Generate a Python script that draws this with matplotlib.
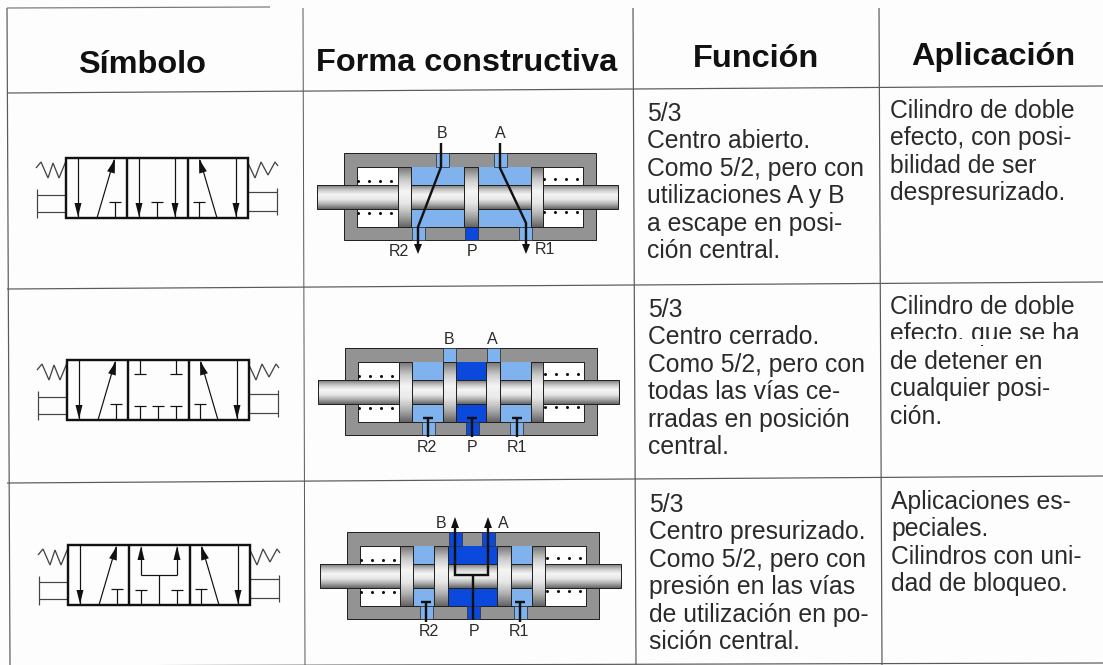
import numpy as np
import matplotlib
matplotlib.use('Agg')
import matplotlib.pyplot as plt
from matplotlib.colors import LinearSegmentedColormap
from matplotlib.patches import Polygon, Rectangle

plt.rcParams['font.family'] = ['Liberation Sans', 'DejaVu Sans']

LIGHT = '#80b2ee'
DARK = '#0b48dc'
GRAY = '#939393'
TEXT = '#2a2a2a'

headers = ['Símbolo', 'Forma constructiva', 'Función', 'Aplicación']
header_x = [142, 467, 756, 993]
header_y = [73, 71, 67, 65]

funcion = [
    ['5/3', 'Centro abierto.', 'Como 5/2, pero con', 'utilizaciones A y B',
     'a escape en posi-', 'ción central.'],
    ['5/3', 'Centro cerrado.', 'Como 5/2, pero con', 'todas las vías ce-',
     'rradas en posición', 'central.'],
    ['5/3', 'Centro presurizado.', 'Como 5/2, pero con', 'presión en las vías',
     'de utilización en po-', 'sición central.'],
]
funcion_x = [647, 648, 649]
funcion_y = [121, 317, 512]

aplicacion = [
    ['Cilindro de doble', 'efecto, con posi-', 'bilidad de ser', 'despresurizado.'],
    ['Cilindro de doble', 'efecto, que se ha', 'de detener en', 'cualquier posi-', 'ción.'],
    ['Aplicaciones es-', 'peciales.', 'Cilindros con uni-', 'dad de bloqueo.'],
]
aplicacion_x = [890, 890, 891]
aplicacion_y = [118, 314, 509]

# symbol box corners, one per row
symbol_x = [66, 67, 68]
symbol_y = [158, 360, 545]

# valve section offsets, relative to the first row
section_dx = [0, 1, 3]
section_dy = [0, 195, 379]
pistons = [
    [(398, 411), (464, 478), (531, 543)],
    [(398, 411), (442, 455), (485, 499), (530, 542)],
    [(397, 410), (431, 445), (494, 508), (529, 542)],
]
chambers = [
    [(411, 464, LIGHT), (478, 531, LIGHT)],
    [(411, 442, LIGHT), (455, 485, DARK), (499, 530, LIGHT)],
    [(410, 431, LIGHT), (445, 494, DARK), (508, 529, LIGHT)],
]
top_ports = [
    [(436, LIGHT), (494, LIGHT)],
    [(442, LIGHT), (486, LIGHT)],
    [(446, DARK), (479, DARK)],
]
bottom_ports = [
    [(412, LIGHT), (465, DARK), (519, LIGHT)],
    [(421, LIGHT), (465, DARK), (509, LIGHT)],
    [(417, LIGHT), (464, DARK), (511, LIGHT)],
]
port_labels = [
    [('B', 442, 134), ('A', 500, 134), ('R2', 399, 251), ('P', 472, 252), ('R1', 545, 250)],
    [('B', 449, 339), ('A', 492, 339), ('R2', 427, 447), ('P', 472, 447), ('R1', 517, 447)],
    [('B', 441, 523), ('A', 503, 523), ('R2', 429, 632), ('P', 474, 632), ('R1', 519, 632)],
]

rod_cmap = LinearSegmentedColormap.from_list(
    'rod', ['#777777', '#c8c8c8', '#f5f5f5', '#e8e8e8', '#b0b0b0', '#666666'])

fig = plt.figure(figsize=(11.03, 6.65), dpi=100, facecolor='#fdfdfd')
ax = fig.add_axes([0, 0, 1, 1])
ax.axis('off')


def px(n):
    return n * 0.72


def line(xs, ys, width=1.0, color='#111111', z=5):
    ax.plot(xs, ys, color=color, lw=px(width), solid_capstyle='butt',
            solid_joinstyle='miter', zorder=z)


def head(x, y, dx, dy, length, half, color='#111111', z=6):
    # arrowhead with the tip at x, y pointing along dx, dy
    norm = np.hypot(dx, dy)
    ux, uy = dx / norm, dy / norm
    base = (x - ux * length, y - uy * length)
    pts = [(x, y), (base[0] - uy * half, base[1] + ux * half),
           (base[0] + uy * half, base[1] - ux * half)]
    ax.add_patch(Polygon(pts, closed=True, fc=color, ec='none', zorder=z))


def rect(x0, x1, y0, y1, color, z=2, edge='#222222', lw=1.0):
    ax.add_patch(Rectangle((x0, y0), x1 - x0, y1 - y0, fc=color, ec=edge,
                           lw=px(lw), zorder=z))


def gradient(x0, x1, y0, y1, z):
    grad = np.linspace(0, 1, 64).reshape(-1, 1)
    ax.imshow(grad, extent=[x0, x1, y1, y0], aspect='auto', cmap=rod_cmap,
              interpolation='bilinear', zorder=z)
    rect(x0, x1, y0, y1, 'none', z=z + 0.1)


def sym_t(x, y0, y1, half=6):
    line([x, x], [y0, y1], 1.2)
    line([x - half, x + half], [y1, y1], 1.2)


def symbol(row, x0, y0):
    w, h = 182, 60
    c = '#444444'
    # springs and levers outside of the box
    line([x0 + v for v in (-30, -25, -18, -13, -7, 0)],
         [y0 + v for v in (10, 4, 20, 5, 20, 3)], 1.3, c)
    line([x0 + w + v for v in (0, 7, 13, 20, 27, 30)],
         [y0 + v for v in (5, 20, 4, 17, 4, 8)], 1.3, c)
    line([x0 - 29, x0], [y0 + 37, y0 + 37], 1.2, c)
    line([x0 - 29, x0], [y0 + 54, y0 + 54], 1.2, c)
    line([x0 - 29, x0 - 29], [y0 + 31, y0 + 60], 1.2, c)
    line([x0 + w, x0 + w + 29], [y0 + 34, y0 + 34], 1.2, c)
    line([x0 + w, x0 + w + 29], [y0 + 53, y0 + 53], 1.2, c)
    line([x0 + w + 29, x0 + w + 29], [y0 + 30, y0 + 57], 1.2, c)

    # side cells are the same in every row
    line([x0 + 12, x0 + 12], [y0, y0 + 60], 1.2)
    head(x0 + 12, y0 + 59, 0, 1, 14, 3.5)
    line([x0 + 31, x0 + 48], [y0 + 60, y0 + 2], 1.2)
    head(x0 + 49, y0 + 1, 0.29, -0.96, 14, 4)
    sym_t(x0 + 49, y0 + 60, y0 + 44)
    line([x0 + 151, x0 + 134], [y0 + 60, y0 + 2], 1.2)
    head(x0 + 133, y0 + 1, -0.29, -0.96, 14, 4)
    sym_t(x0 + 133, y0 + 60, y0 + 44)
    line([x0 + 170, x0 + 170], [y0, y0 + 60], 1.2)
    head(x0 + 170, y0 + 59, 0, 1, 14, 3.5)

    # middle cell is what tells the three valves apart
    if row == 0:
        for rel in (73, 109):
            line([x0 + rel, x0 + rel], [y0, y0 + 60], 1.2)
            head(x0 + rel, y0 + 59, 0, 1, 14, 3.5)
        sym_t(x0 + 91, y0 + 60, y0 + 44)
    elif row == 1:
        for rel in (73, 109):
            sym_t(x0 + rel, y0, y0 + 14)
            sym_t(x0 + rel, y0 + 60, y0 + 46)
        sym_t(x0 + 91, y0 + 60, y0 + 46)
    else:
        for rel in (73, 109):
            line([x0 + rel, x0 + rel], [y0 + 30, y0 + 2], 1.2)
            head(x0 + rel, y0 + 1, 0, -1, 14, 3.5)
            sym_t(x0 + rel, y0 + 60, y0 + 45)
        line([x0 + 73, x0 + 109], [y0 + 30, y0 + 30], 1.2)
        line([x0 + 91, x0 + 91], [y0 + 30, y0 + 60], 1.2)

    # box goes on top
    rect(x0, x0 + w, y0, y0 + h, 'none', z=7, edge='#111111', lw=2.4)
    for rel in (61, 122):
        line([x0 + rel, x0 + rel], [y0, y0 + h], 2.4, z=7)


def section(row, dx, dy):
    rect(344 + dx, 596 + dx, 153 + dy, 240 + dy, GRAY)
    rect(357 + dx, 583 + dx, 167 + dy, 227 + dy, 'white', z=2.1)
    for x0, x1, c in chambers[row]:
        rect(x0 + dx, x1 + dx, 167 + dy, 227 + dy, c, z=2.2, edge='none', lw=0)
    gradient(317 + dx, 618 + dx, 185 + dy, 209 + dy, 3)
    for x0, x1 in pistons[row]:
        gradient(x0 + dx, x1 + dx, 167 + dy, 227 + dy, 3.5)
    for x0, c in top_ports[row]:
        rect(x0 + dx, x0 + 13 + dx, 153 + dy, 167 + dy, c, z=3, edge='#333333', lw=0.8)
    for x0, c in bottom_ports[row]:
        rect(x0 + dx, x0 + 13 + dx, 227 + dy, 240 + dy, c, z=3, edge='#333333', lw=0.8)

    # coil dots next to the rod
    coil_left = np.array([358, 369, 380, 391]) + dx
    coil_right = np.array([544, 555, 566, 577]) + dx
    for xs, y_top, y_bot in ((coil_left, 181, 213), (coil_right, 179, 212)):
        ax.plot(xs, [y_top + dy] * 4, 'o', ms=2.2, mew=0, color='#111111', zorder=4)
        ax.plot(xs, [y_bot + dy] * 4, 'o', ms=2.2, mew=0, color='#111111', zorder=4)

    # flow paths
    if row == 0:
        line([441, 441, 418, 418], [143, 167, 227, 245], 2.4)
        head(418, 254, 0, 1, 10, 4)
        line([500, 500, 526, 526], [143, 168, 223, 245], 2.4)
        head(526, 254, 0, 1, 10, 4)
    elif row == 1:
        for x in (428, 472, 517):
            line([x, x], [418, 437], 2.4)
            line([x - 5, x + 5], [418, 418], 2.4)
    else:
        line([455, 455, 488, 488], [525, 575, 575, 525], 2.4)
        head(455, 517, 0, -1, 11, 4)
        head(488, 517, 0, -1, 11, 4)
        line([473, 473], [575, 620], 2.4)
        for x in (426, 520):
            line([x, x], [602, 622], 2.4)
            line([x - 5, x + 5], [602, 602], 2.4)

    for label, x, y in port_labels[row]:
        ax.text(x, y, label, ha='center', va='center', fontsize=11.5, color=TEXT, zorder=8)


for name, x, y in zip(headers, header_x, header_y):
    ax.text(x, y, name, ha='center', va='baseline', fontsize=23.4, fontweight='bold',
            color='#111111')

# table rules, slightly skewed like the scan
grid = '#5a5a5a'
line([7, 10], [8, 665], 1.2, grid, z=1)
line([303, 305], [8, 665], 1.0, grid, z=1)
line([633, 636], [8, 665], 1.2, grid, z=1)
line([879, 882], [8, 665], 1.2, grid, z=1)
line([7, 270], [8, 7], 1.2, '#777777', z=1)
line([7, 1103], [93, 86], 1.2, grid, z=1)
line([7, 1103], [289, 282], 1.2, grid, z=1)
line([7, 1103], [483, 476], 1.2, grid, z=1)
line([10, 1103], [666, 663], 1.2, grid, z=1)

for row in range(3):
    symbol(row, symbol_x[row], symbol_y[row])
    section(row, section_dx[row], section_dy[row])
    for i, text in enumerate(funcion[row]):
        ax.text(funcion_x[row], funcion_y[row] + i * 27.4, text, va='baseline',
                fontsize=17.8, color=TEXT)
    for i, text in enumerate(aplicacion[row]):
        ax.text(aplicacion_x[row], aplicacion_y[row] + i * 27.4, text, va='baseline',
                fontsize=17.8, color=TEXT)

# scanner dropout that cuts the second line of the last column
ax.add_patch(Rectangle((885, 339), 200, 6, fc='#fdfdfd', ec='none', zorder=9))

ax.set_xlim(0, 1103)
ax.set_ylim(665, 0)
fig.savefig('out.png', dpi=100, facecolor=fig.get_facecolor())
